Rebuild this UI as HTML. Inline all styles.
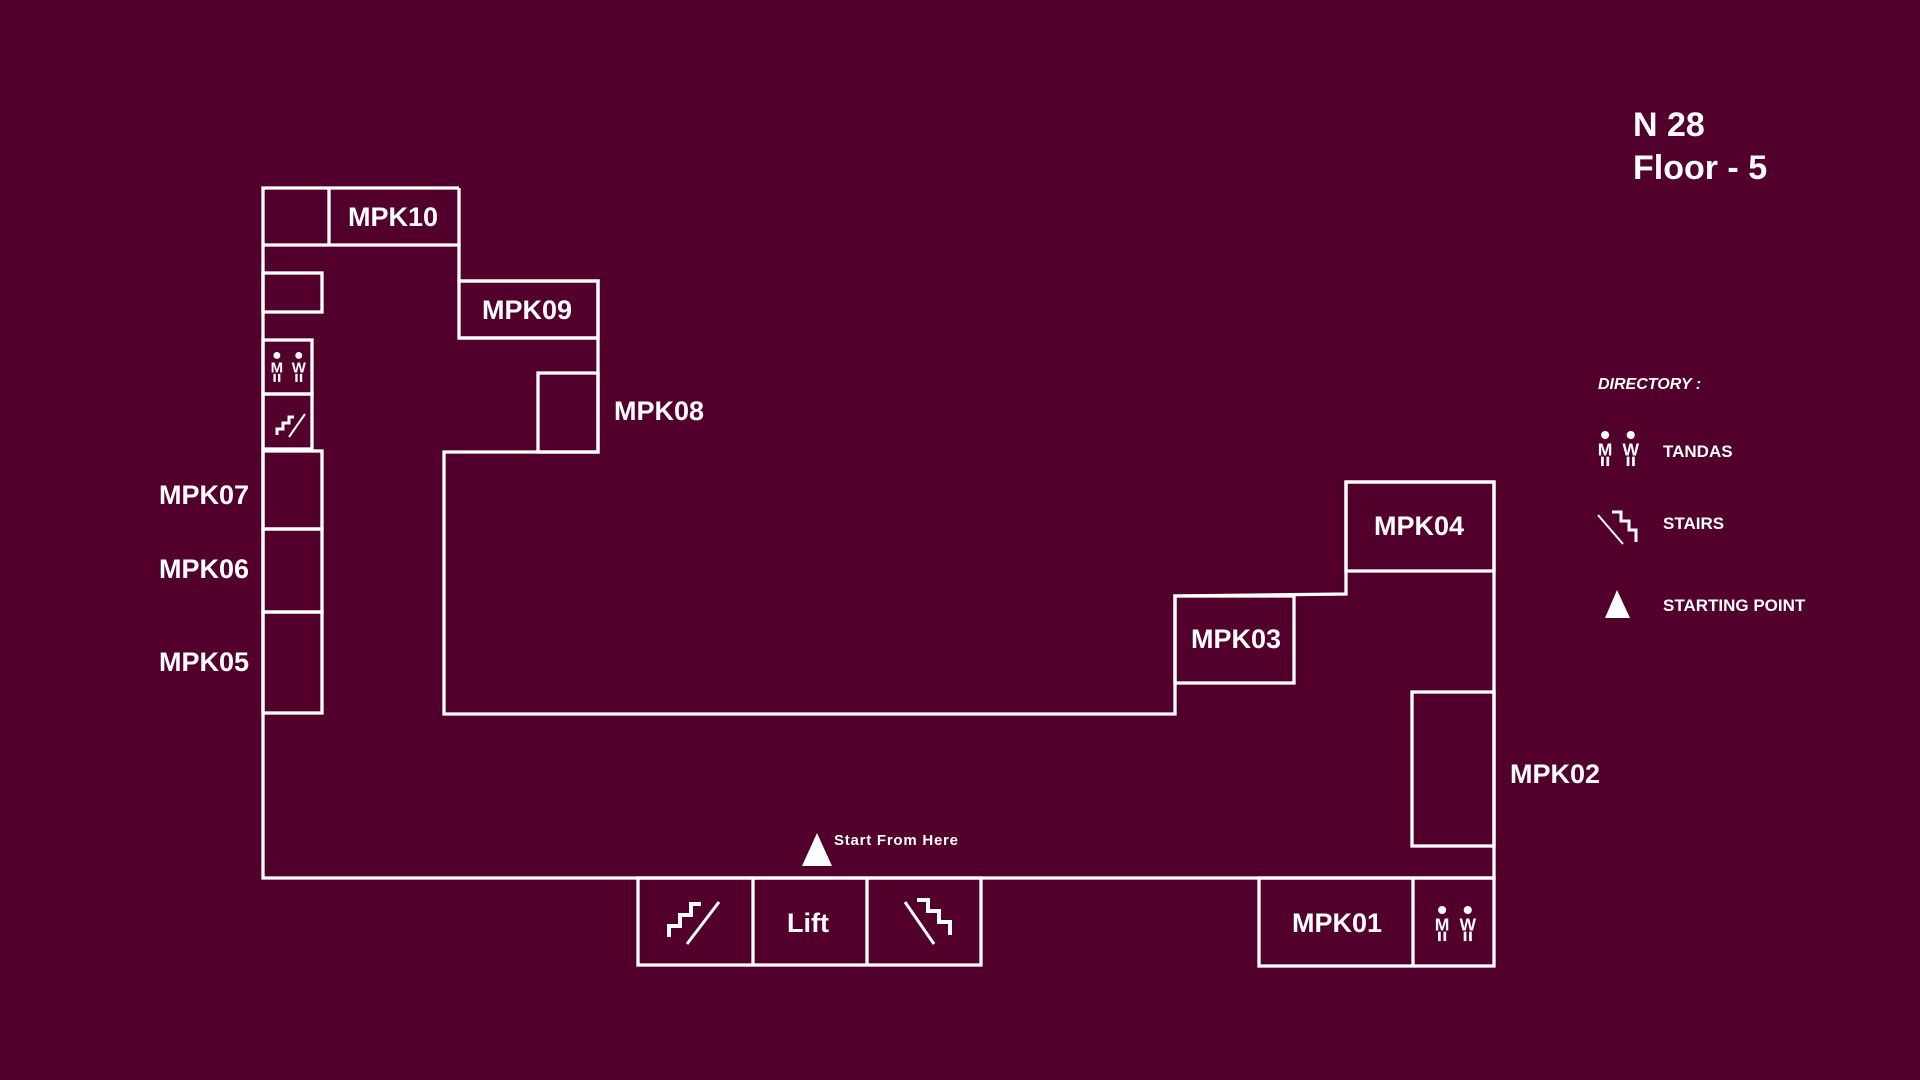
<!DOCTYPE html>
<html><head><meta charset="utf-8"><style>
html,body{margin:0;padding:0;background:#52002b;}
svg{display:block}
text{font-family:"Liberation Sans",sans-serif;fill:#fff;font-weight:bold}
</style></head><body>
<svg width="1920" height="1080" viewBox="0 0 1920 1080" xmlns="http://www.w3.org/2000/svg">
<rect width="1920" height="1080" fill="#52002b"/>
<defs>
<g id="wc">
<circle cx="6" cy="3" r="3" fill="#fff"/>
<text x="6" y="18" font-size="13" text-anchor="middle" font-weight="normal">M</text>
<line x1="4" y1="19" x2="4" y2="26" stroke="#fff" stroke-width="2"/>
<line x1="8" y1="19" x2="8" y2="26" stroke="#fff" stroke-width="2"/>
<circle cx="25" cy="3" r="3" fill="#fff"/>
<text x="25" y="18" font-size="13" text-anchor="middle" font-weight="normal">W</text>
<line x1="23" y1="19" x2="23" y2="26" stroke="#fff" stroke-width="2"/>
<line x1="27" y1="19" x2="27" y2="26" stroke="#fff" stroke-width="2"/>
</g>
</defs>
<g fill="none" stroke="#fff" stroke-width="3.3">
<polyline points="459,188 263,188 263,878 1494,878 1494,482 1346,482 1346,594 1175,596 1175,714 444,714 444,452 598,452 598,281 459,281 459,188"/>
<line x1="329" y1="188" x2="329" y2="245"/>
<line x1="263" y1="245" x2="459" y2="245"/>
<rect x="263" y="273" width="59" height="39"/>
<rect x="459" y="281" width="139" height="57"/>
<line x1="459" y1="338" x2="598" y2="338"/>
<rect x="538" y="373" width="60" height="79"/>
<rect x="263" y="340" width="49" height="54"/>
<rect x="263" y="394" width="49" height="55"/>
<rect x="263" y="451" width="59" height="78"/>
<rect x="263" y="529" width="59" height="83"/>
<rect x="263" y="612" width="59" height="101"/>
<rect x="1346" y="482" width="148" height="89"/>
<rect x="1175" y="596" width="119" height="87"/>
<rect x="1412" y="692" width="82" height="154"/>
<rect x="638" y="878" width="343" height="87"/>
<line x1="753" y1="878" x2="753" y2="965"/>
<line x1="867" y1="878" x2="867" y2="965"/>
<rect x="1259" y="878" width="235" height="88"/>
<line x1="1413" y1="878" x2="1413" y2="966"/>
</g>
<g fill="none" stroke="#fff" stroke-width="4">
<polyline points="669,937 669,926 680,926 680,915 691,915 691,904 701,904"/>
<line x1="719" y1="902" x2="687" y2="944" stroke-width="3"/>
<polyline points="917,900 928,900 928,911 939,911 939,922 950,922 950,935"/>
<line x1="905" y1="902" x2="934" y2="944" stroke-width="3"/>
<polyline points="277,435 277,429 283,429 283,423 289,423 289,417 294,417" stroke-width="3"/>
<line x1="305" y1="414" x2="289" y2="437" stroke-width="2"/>
<polyline points="1612,512 1621,512 1621,521 1629,521 1629,530 1636,530 1636,542" stroke-width="3"/>
<line x1="1598" y1="515" x2="1623" y2="544" stroke-width="2"/>
</g>
<use href="#wc" transform="translate(270,352) scale(1.15)"/>
<use href="#wc" transform="translate(1434,906) scale(1.35)"/>
<use href="#wc" transform="translate(1597,431) scale(1.35)"/>
<polygon points="817,833 802,866 832,866" fill="#fff"/>
<polygon points="1617,590 1605,618 1630,618" fill="#fff"/>
<g font-size="27" font-weight="normal">
<text x="393" y="226" text-anchor="middle">MPK10</text>
<text x="527" y="319" text-anchor="middle">MPK09</text>
<text x="614" y="420">MPK08</text>
<text x="249" y="504" text-anchor="end">MPK07</text>
<text x="249" y="578" text-anchor="end">MPK06</text>
<text x="249" y="671" text-anchor="end">MPK05</text>
<text x="1419" y="535" text-anchor="middle">MPK04</text>
<text x="1236" y="648" text-anchor="middle">MPK03</text>
<text x="1510" y="783">MPK02</text>
<text x="1337" y="932" text-anchor="middle">MPK01</text>
<text x="808" y="932" text-anchor="middle">Lift</text>
</g>
<text x="834" y="845" font-size="15" textLength="124">Start From Here</text>
<text x="1633" y="136" font-size="34">N 28</text>
<text x="1633" y="179" font-size="34">Floor - 5</text>
<text x="1598" y="389" font-size="16" font-style="italic">DIRECTORY :</text>
<g font-size="17" font-weight="normal">
<text x="1663" y="457">TANDAS</text>
<text x="1663" y="529">STAIRS</text>
<text x="1663" y="611">STARTING POINT</text>
</g>
</svg>
</body></html>
